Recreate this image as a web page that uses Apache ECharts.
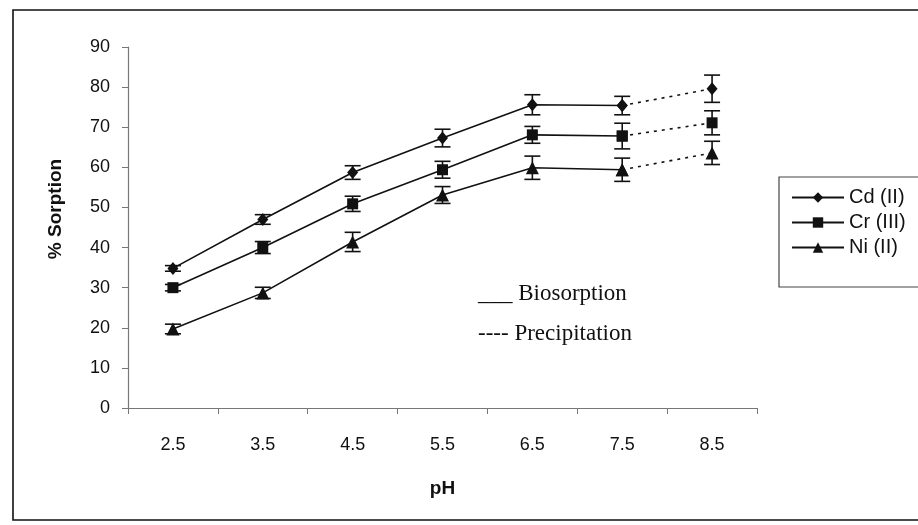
<!DOCTYPE html>
<html>
<head>
<meta charset="utf-8">
<script src="https://cdn.jsdelivr.net/npm/echarts@6/dist/echarts.min.js"></script>
<style>html,body{margin:0;padding:0;background:#fff}#c{width:918px;height:525px}</style>
</head>
<body>
<div id="c"></div>
<script>
var categories = ['2.5', '3.5', '4.5', '5.5', '6.5', '7.5', '8.5'];
var yTicks = [0, 10, 20, 30, 40, 50, 60, 70, 80, 90];
var cdValues = [34.8, 47.0, 58.7, 67.3, 75.6, 75.4, 79.6];
var crValues = [30.0, 40.0, 50.9, 59.4, 68.1, 67.8, 71.1];
var niValues = [19.7, 28.7, 41.4, 53.1, 59.9, 59.4, 63.6];
var cdErrors = [0.7, 1.2, 1.7, 2.2, 2.5, 2.3, 3.4];
var crErrors = [0.8, 1.5, 1.9, 2.1, 2.1, 3.2, 3.0];
var niErrors = [1.2, 1.4, 2.4, 2.1, 2.9, 2.9, 2.9];
var seriesNames = ['Cd (II)', 'Cr (III)', 'Ni (II)'];
var biosorptionCount = 6; // points 2.5 .. 7.5 are biosorption (solid), 7.5 -> 8.5 precipitation (dotted)

var chart = echarts.init(document.getElementById('c'));
var INK = '#111';
var font = '"Liberation Sans", Arial, sans-serif';
var serif = '"Liberation Serif", "Times New Roman", serif';

function solidData(vals) {
  return vals.map(function (v, i) { return i < biosorptionCount ? v : '-'; });
}
function dottedData(vals) {
  return vals.map(function (v, i) { return i >= biosorptionCount - 1 ? v : '-'; });
}
function errData(vals, errs) {
  return vals.map(function (v, i) { return [i, v, errs[i]]; });
}
function errRender(params, api) {
  var x = api.value(0), y = api.value(1), e = api.value(2);
  var hi = api.coord([x, y + e]);
  var lo = api.coord([x, y - e]);
  var w = 8;
  var st = { stroke: INK, lineWidth: 1.6 };
  return {
    type: 'group',
    children: [
      { type: 'line', shape: { x1: hi[0], y1: hi[1], x2: lo[0], y2: lo[1] }, style: st },
      { type: 'line', shape: { x1: hi[0] - w, y1: hi[1], x2: hi[0] + w, y2: hi[1] }, style: st },
      { type: 'line', shape: { x1: lo[0] - w, y1: lo[1], x2: lo[0] + w, y2: lo[1] }, style: st }
    ]
  };
}

var allVals = [cdValues, crValues, niValues];
var allErrs = [cdErrors, crErrors, niErrors];
var symbols = ['diamond', 'rect', 'triangle'];
var symSizes = [[11, 13], 11, 13];

var series = [];
for (var k = 0; k < 3; k++) {
  series.push({
    name: seriesNames[k], type: 'line', data: solidData(allVals[k]),
    symbol: symbols[k], symbolSize: symSizes[k], showAllSymbol: true,
    itemStyle: { color: INK }, lineStyle: { color: INK, width: 1.6, type: 'solid' },
    z: 5, animation: false
  });
  series.push({
    name: seriesNames[k] + ' precipitation', type: 'line', data: dottedData(allVals[k]),
    symbol: symbols[k], symbolSize: symSizes[k], showAllSymbol: true,
    itemStyle: { color: INK }, lineStyle: { color: INK, width: 1.6, type: [3, 5] },
    z: 5, animation: false
  });
  series.push({
    name: seriesNames[k] + ' error', type: 'custom', data: errData(allVals[k], allErrs[k]),
    renderItem: errRender, encode: { x: 0, y: 1 }, z: 4, animation: false
  });
}

chart.setOption({
  backgroundColor: '#fff',
  animation: false,
  grid: { left: 128, right: 161, top: 47, bottom: 117 },
  xAxis: {
    type: 'category', data: categories, boundaryGap: true,
    name: 'pH', nameLocation: 'middle', nameGap: 71,
    nameTextStyle: { fontFamily: font, fontSize: 19, fontWeight: 'bold', color: INK },
    axisLine: { lineStyle: { color: '#777', width: 1.2 } },
    axisTick: { show: true, length: 6, lineStyle: { color: '#777' } },
    axisLabel: { fontFamily: font, fontSize: 18, color: INK, margin: 28 },
    splitLine: { show: false }
  },
  yAxis: {
    type: 'value', min: yTicks[0], max: yTicks[yTicks.length - 1], interval: 10,
    axisLine: { show: true, lineStyle: { color: '#777', width: 1.2 } },
    axisTick: { show: true, length: 6, lineStyle: { color: '#777' } },
    axisLabel: { fontFamily: font, fontSize: 18, color: INK, margin: 18 },
    splitLine: { show: false }
  },
  legend: {
    data: seriesNames, orient: 'vertical', left: 786, top: 182,
    itemWidth: 52, itemHeight: 13, itemGap: 4,
    textStyle: { fontFamily: font, fontSize: 20, color: INK, lineHeight: 21 },
    selectedMode: false
  },
  graphic: [
    { type: 'rect', shape: { x: 13, y: 10, width: 940, height: 510 }, style: { fill: 'none', stroke: INK, lineWidth: 1.6 }, silent: true },
    { type: 'rect', shape: { x: 779, y: 177, width: 160, height: 110 }, style: { fill: 'none', stroke: '#444', lineWidth: 1.2 }, silent: true },
    { type: 'text', x: 56, y: 209, rotation: Math.PI / 2,
      style: { text: '% Sorption', font: 'bold 19px ' + font, fill: INK, textAlign: 'center', textVerticalAlign: 'middle' } },
    { type: 'text', left: 478, top: 282, style: { text: '___ Biosorption', font: '23px ' + serif, fill: INK } },
    { type: 'text', left: 478, top: 322, style: { text: '---- Precipitation', font: '23px ' + serif, fill: INK } }
  ],
  series: series
});
</script>
</body>
</html>
